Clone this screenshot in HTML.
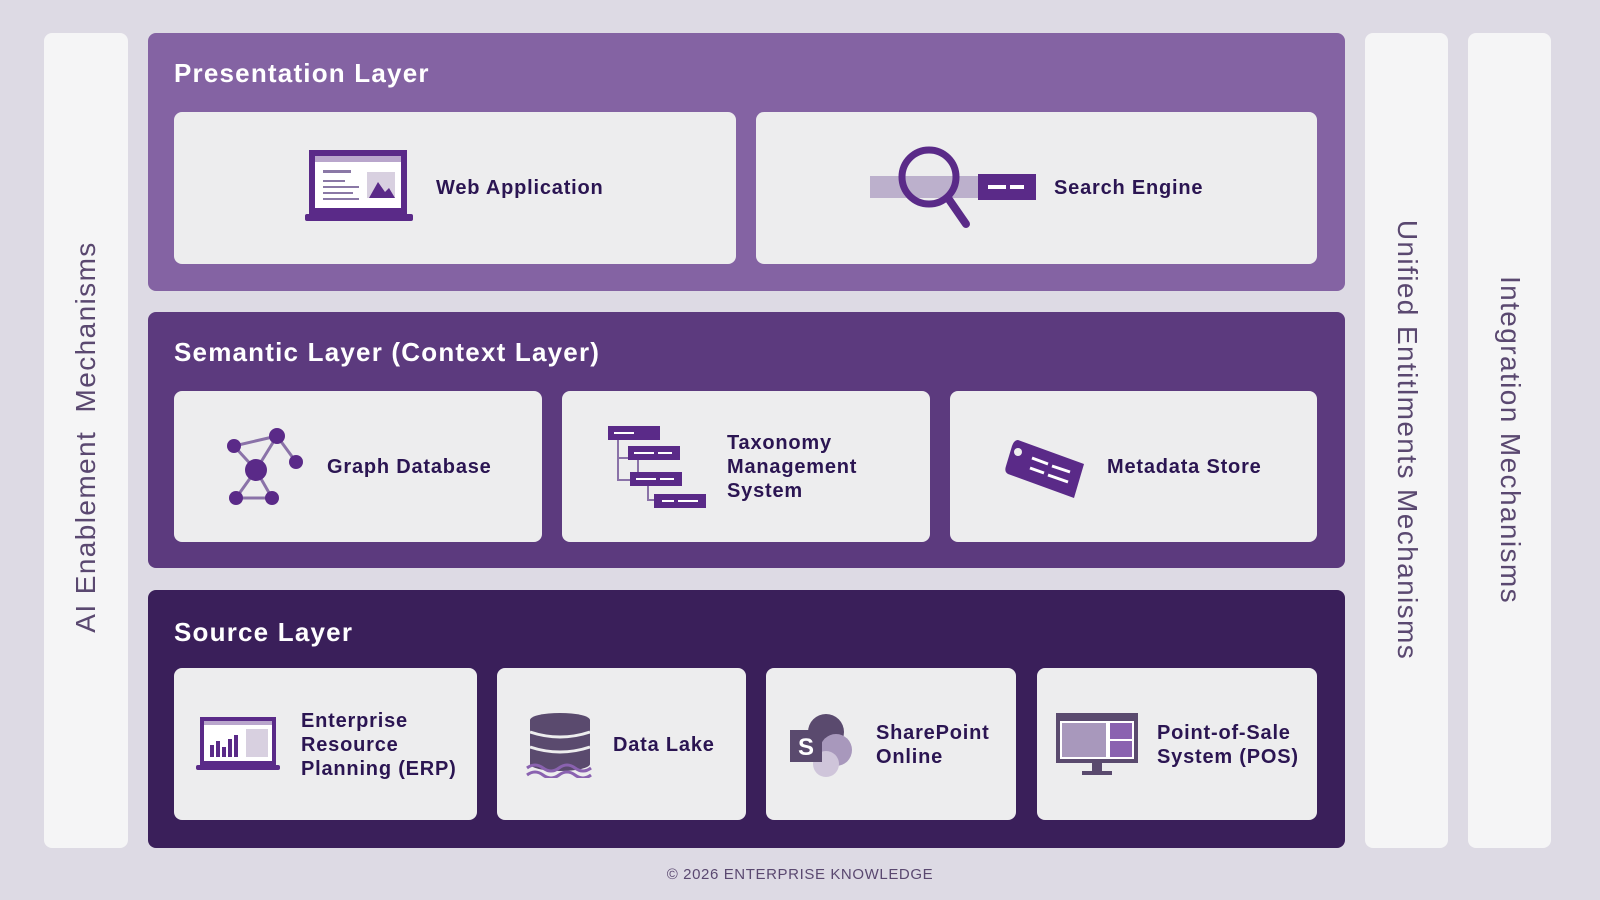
<!DOCTYPE html>
<html><head><meta charset="utf-8"><style>
*{margin:0;padding:0;box-sizing:border-box}
body{width:1600px;height:900px;background:#dddae4;position:relative;overflow:hidden;font-family:"Liberation Sans",sans-serif}
.a{position:absolute}
.col{background:#f5f5f6;border-radius:8px}
.vt{position:absolute;white-space:nowrap;font-size:28px;color:#5a4870;letter-spacing:1.4px}
.panel{border-radius:8px}
.title{position:absolute;left:26px;color:#fff;font-size:26px;font-weight:bold;letter-spacing:1.2px}
.card{position:absolute;background:#ededee;border-radius:8px}
.lbl{position:absolute;color:#2b1552;font-size:20px;font-weight:bold;line-height:24px;letter-spacing:0.8px}
.ic{position:absolute}
</style></head><body>
<div class="a col" style="left:44px;top:33px;width:84px;height:815px"></div>
<div class="a col" style="left:1365px;top:33px;width:83px;height:815px"></div>
<div class="a col" style="left:1468px;top:33px;width:83px;height:815px"></div>
<div class="vt" style="left:86px;top:437px;transform:translate(-50%,-50%) rotate(-90deg)">AI Enablement&nbsp; Mechanisms</div>
<div class="vt" style="left:1407px;top:440px;transform:translate(-50%,-50%) rotate(90deg)">Unified Entitlments Mechanisms</div>
<div class="vt" style="left:1510px;top:440px;transform:translate(-50%,-50%) rotate(90deg)">Integration Mechanisms</div>

<div class="a panel" style="left:148px;top:33px;width:1197px;height:258px;background:#8463a3"><div class="title" style="top:25px">Presentation Layer</div></div>
<div class="a panel" style="left:148px;top:312px;width:1197px;height:256px;background:#5c3a7e"><div class="title" style="top:25px">Semantic Layer (Context Layer)</div></div>
<div class="a panel" style="left:148px;top:590px;width:1197px;height:258px;background:#3a1f5a"><div class="title" style="top:27px">Source Layer</div></div>

<div class="card" style="left:174px;top:112px;width:562px;height:152px"></div>
<div class="card" style="left:756px;top:112px;width:561px;height:152px"></div>
<svg class="ic" style="left:305px;top:148px" width="108" height="78" viewBox="0 0 108 78">
<rect x="4" y="2" width="98" height="64" fill="#5a2a88"/><rect x="10" y="8" width="86" height="52" fill="#fff"/><rect x="10" y="8" width="86" height="6" fill="#b9a6cc"/>
<rect x="18" y="22" width="28" height="3" fill="#8a78a6"/><rect x="18" y="32" width="22" height="2" fill="#8a78a6"/><rect x="18" y="38" width="36" height="2" fill="#8a78a6"/><rect x="18" y="44" width="30" height="2" fill="#8a78a6"/><rect x="18" y="50" width="36" height="2" fill="#8a78a6"/>
<rect x="62" y="24" width="28" height="26" fill="#d8d0e0"/><path d="M64 50 L73 34 L80 44 L84 40 L90 50Z" fill="#5a2a88"/>
<rect x="0" y="66" width="108" height="7" rx="2" fill="#5a2a88"/></svg>
<div class="lbl" style="left:436px;top:176px">Web Application</div>
<svg class="ic" style="left:870px;top:146px" width="166" height="86" viewBox="0 0 166 86">
<rect x="0" y="30" width="110" height="22" fill="#bcb0cc"/><rect x="108" y="28" width="58" height="26" fill="#5a2a88"/>
<rect x="118" y="39" width="18" height="4" fill="#fff"/><rect x="140" y="39" width="14" height="4" fill="#fff"/>
<circle cx="59" cy="31" r="27" fill="none" stroke="#5a2a88" stroke-width="7"/><line x1="78" y1="52" x2="96" y2="78" stroke="#5a2a88" stroke-width="8" stroke-linecap="round"/></svg>
<div class="lbl" style="left:1054px;top:176px">Search Engine</div>

<div class="card" style="left:174px;top:391px;width:368px;height:151px"></div>
<div class="card" style="left:562px;top:391px;width:368px;height:151px"></div>
<div class="card" style="left:950px;top:391px;width:367px;height:151px"></div>
<svg class="ic" style="left:222px;top:426px" width="86" height="84" viewBox="0 0 86 84">
<g stroke="#8a72a8" stroke-width="3"><line x1="12" y1="20" x2="34" y2="44"/><line x1="12" y1="20" x2="55" y2="10"/><line x1="55" y1="10" x2="34" y2="44"/><line x1="55" y1="10" x2="74" y2="36"/><line x1="34" y1="44" x2="14" y2="72"/><line x1="14" y1="72" x2="50" y2="72"/><line x1="34" y1="44" x2="50" y2="72"/></g>
<g fill="#5a2a88"><circle cx="12" cy="20" r="7"/><circle cx="55" cy="10" r="8"/><circle cx="34" cy="44" r="11"/><circle cx="74" cy="36" r="7"/><circle cx="14" cy="72" r="7"/><circle cx="50" cy="72" r="7"/></g></svg>
<div class="lbl" style="left:327px;top:455px">Graph Database</div>
<svg class="ic" style="left:608px;top:424px" width="100" height="86" viewBox="0 0 100 86">
<g stroke="#8a72a8" stroke-width="2" fill="none"><path d="M10 14 V34 H22 M10 34 V56 H22 M30 34 V56 M40 56 V76 H46"/></g>
<g fill="#5a2a88"><rect x="0" y="2" width="52" height="14"/><rect x="20" y="22" width="52" height="14"/><rect x="22" y="48" width="52" height="14"/><rect x="46" y="70" width="52" height="14"/></g>
<g fill="#fff"><rect x="6" y="8" width="20" height="2"/><rect x="26" y="28" width="20" height="2"/><rect x="50" y="28" width="14" height="2"/><rect x="28" y="54" width="20" height="2"/><rect x="52" y="54" width="14" height="2"/><rect x="54" y="76" width="12" height="2"/><rect x="70" y="76" width="20" height="2"/></g></svg>
<div class="lbl" style="left:727px;top:431px">Taxonomy<br>Management<br>System</div>
<svg class="ic" style="left:1004px;top:436px" width="84" height="66" viewBox="0 0 84 66">
<path d="M14 4 L80 28 L70 62 L4 38 Q0 36 2 30 L8 10 Q10 4 14 4Z" fill="#5a2a88"/><circle cx="14" cy="16" r="4" fill="#ededee"/>
<g stroke="#fff" stroke-width="3"><line x1="28" y1="22" x2="44" y2="28"/><line x1="48" y1="30" x2="66" y2="36"/><line x1="26" y1="32" x2="40" y2="37"/><line x1="44" y1="39" x2="64" y2="46"/></g></svg>
<div class="lbl" style="left:1107px;top:455px">Metadata Store</div>

<div class="card" style="left:174px;top:668px;width:303px;height:152px"></div>
<div class="card" style="left:497px;top:668px;width:249px;height:152px"></div>
<div class="card" style="left:766px;top:668px;width:250px;height:152px"></div>
<div class="card" style="left:1037px;top:668px;width:280px;height:152px"></div>
<svg class="ic" style="left:196px;top:715px" width="84" height="58" viewBox="0 0 84 58">
<rect x="4" y="2" width="76" height="48" fill="#5a2a88"/><rect x="8" y="6" width="68" height="40" fill="#fff"/><rect x="8" y="6" width="68" height="4" fill="#b9a6cc"/>
<rect x="50" y="14" width="22" height="28" fill="#d8d0e0"/><g fill="#5a2a88"><rect x="14" y="30" width="4" height="12"/><rect x="20" y="26" width="4" height="16"/><rect x="26" y="32" width="4" height="10"/><rect x="32" y="24" width="4" height="18"/><rect x="38" y="20" width="4" height="22"/></g>
<rect x="0" y="50" width="84" height="5" rx="2" fill="#5a2a88"/></svg>
<div class="lbl" style="left:301px;top:709px">Enterprise<br>Resource<br>Planning (ERP)</div>
<svg class="ic" style="left:525px;top:712px" width="70" height="66" viewBox="0 0 70 66">
<g fill="#5a4a6e"><ellipse cx="35" cy="8" rx="30" ry="7"/><rect x="5" y="8" width="60" height="44"/><ellipse cx="35" cy="52" rx="30" ry="7"/></g>
<g stroke="#ededee" stroke-width="3" fill="none"><path d="M5 20 Q35 30 65 20"/><path d="M5 35 Q35 45 65 35"/></g>
<g stroke="#8a62b0" stroke-width="3" fill="none"><path d="M2 56 q8 -6 16 0 t16 0 t16 0 t16 0"/><path d="M2 63 q8 -6 16 0 t16 0 t16 0 t16 0"/></g></svg>
<div class="lbl" style="left:613px;top:733px">Data Lake</div>
<svg class="ic" style="left:790px;top:712px" width="66" height="66" viewBox="0 0 66 66">
<circle cx="36" cy="20" r="18" fill="#5a4a6e"/><circle cx="46" cy="38" r="16" fill="#a898bc"/><circle cx="36" cy="52" r="13" fill="#cfc5da"/>
<rect x="0" y="18" width="32" height="32" fill="#5a4a6e"/><text x="16" y="43" font-family="Liberation Sans" font-weight="bold" font-size="24" fill="#fff" text-anchor="middle">S</text></svg>
<div class="lbl" style="left:876px;top:721px">SharePoint<br>Online</div>
<svg class="ic" style="left:1056px;top:713px" width="82" height="66" viewBox="0 0 82 66">
<rect x="0" y="0" width="82" height="50" fill="#5a4a6e"/><rect x="4" y="8" width="74" height="38" fill="#fff"/>
<rect x="6" y="10" width="44" height="34" fill="#a898bc"/><rect x="54" y="10" width="22" height="16" fill="#8a62b0"/><rect x="54" y="28" width="22" height="16" fill="#8a62b0"/>
<rect x="36" y="50" width="10" height="8" fill="#5a4a6e"/><rect x="26" y="58" width="30" height="4" fill="#5a4a6e"/></svg>
<div class="lbl" style="left:1157px;top:721px">Point-of-Sale<br>System (POS)</div>

<div class="a" style="left:0;width:1600px;top:866px;text-align:center;font-size:15px;letter-spacing:0.6px;color:#5a4870">© 2026 ENTERPRISE KNOWLEDGE</div>
</body></html>
